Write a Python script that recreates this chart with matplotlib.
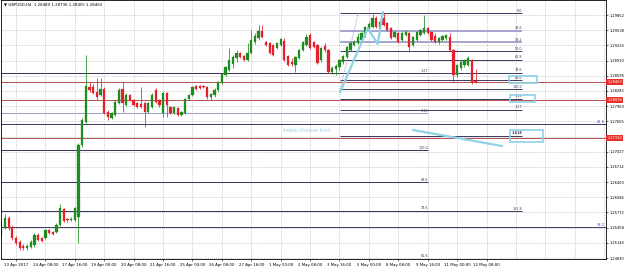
import matplotlib.pyplot as plt
from matplotlib.patches import Rectangle

# GBPUSD H4 candles, bar index 0 = 13 Apr 2017 00:00
first_bar = -4
opens = [1.2531, 1.2547, 1.2566, 1.2547, 1.2525, 1.2516, 1.2508, 1.2504, 1.2506, 1.2510,
         1.2531, 1.2525, 1.2525, 1.2541, 1.2537, 1.2537, 1.2551, 1.2584, 1.2564, 1.2562,
         1.2562, 1.2568, 1.2717, 1.2764, 1.2836, 1.2836, 1.2826, 1.2820, 1.2832, 1.2785,
         1.2772, 1.2779, 1.2803, 1.2832, 1.2799, 1.2820, 1.2810, 1.2803, 1.2801, 1.2803,
         1.2785, 1.2795, 1.2830, 1.2810, 1.2783, 1.2824, 1.2795, 1.2783, 1.2793, 1.2779,
         1.2783, 1.2812, 1.2820, 1.2839, 1.2839, 1.2839, 1.2836, 1.2816, 1.2820, 1.2830,
         1.2845, 1.2861, 1.2872, 1.2884, 1.2896, 1.2907, 1.2901, 1.2892, 1.2907, 1.2929,
         1.2938, 1.2952, 1.2929, 1.2927, 1.2923, 1.2917, 1.2923, 1.2932, 1.2901, 1.2888,
         1.2882, 1.2896, 1.2913, 1.2923, 1.2944, 1.2929, 1.2923, 1.2892, 1.2921, 1.2913,
         1.2868, 1.2874, 1.2878, 1.2888, 1.2898, 1.2913, 1.2923, 1.2927, 1.2934, 1.2944,
         1.2954, 1.2960, 1.2979, 1.2956, 1.2979, 1.2969, 1.2958, 1.2940, 1.2948, 1.2934,
         1.2944, 1.2948, 1.2923, 1.2934, 1.2944, 1.2948, 1.2958, 1.2950, 1.2942, 1.2929,
         1.2934, 1.2938, 1.2940, 1.2913, 1.2861, 1.2876, 1.2882, 1.2882, 1.2892, 1.28489]
closes = [1.2551, 1.2566, 1.2545, 1.2525, 1.2514, 1.2504, 1.2504, 1.2508, 1.2516, 1.2531,
          1.2520, 1.2518, 1.2541, 1.2535, 1.2533, 1.2551, 1.2586, 1.2560, 1.2562, 1.2564,
          1.2586, 1.2717, 1.2768, 1.2839, 1.2830, 1.2824, 1.2816, 1.2832, 1.2783, 1.2774,
          1.2783, 1.2805, 1.2830, 1.2803, 1.2820, 1.2810, 1.2799, 1.2795, 1.2795, 1.2785,
          1.2803, 1.2820, 1.2805, 1.2799, 1.2824, 1.2799, 1.2783, 1.2795, 1.2779, 1.2785,
          1.2812, 1.2820, 1.2836, 1.2832, 1.2834, 1.2836, 1.2816, 1.2822, 1.2830, 1.2847,
          1.2863, 1.2878, 1.2892, 1.2898, 1.2907, 1.2898, 1.2892, 1.2907, 1.2934, 1.2942,
          1.2952, 1.2940, 1.2923, 1.2907, 1.2903, 1.2927, 1.2936, 1.2892, 1.2882, 1.2884,
          1.2898, 1.2913, 1.2929, 1.2940, 1.2917, 1.2919, 1.2886, 1.2917, 1.2913, 1.2868,
          1.2876, 1.2880, 1.2892, 1.2901, 1.2919, 1.2927, 1.2929, 1.2940, 1.2948, 1.2960,
          1.2967, 1.2979, 1.2960, 1.2971, 1.2965, 1.2954, 1.2938, 1.2950, 1.2929, 1.2948,
          1.2950, 1.2919, 1.2940, 1.2950, 1.2954, 1.2958, 1.2948, 1.2934, 1.2929, 1.2938,
          1.2942, 1.2944, 1.2913, 1.2861, 1.2882, 1.2888, 1.2892, 1.2896, 1.2847, 1.28463]
highs = [1.2562, 1.2574, 1.2570, 1.2551, 1.2529, 1.2520, 1.2512, 1.2512, 1.2520, 1.2535,
         1.2535, 1.2527, 1.2543, 1.2543, 1.2539, 1.2556, 1.2595, 1.2586, 1.2566, 1.2568,
         1.2588, 1.2721, 1.2772, 1.2903, 1.2847, 1.2843, 1.2855, 1.2855, 1.2836, 1.2789,
         1.2785, 1.2810, 1.2834, 1.2847, 1.2824, 1.2822, 1.2812, 1.2805, 1.2836, 1.2805,
         1.2805, 1.2824, 1.2834, 1.2812, 1.2826, 1.2826, 1.2797, 1.2797, 1.2795, 1.2787,
         1.2814, 1.2822, 1.2839, 1.2841, 1.2841, 1.2841, 1.2839, 1.2824, 1.2834, 1.2849,
         1.2865, 1.2880, 1.2917, 1.2903, 1.2913, 1.2909, 1.2903, 1.2927, 1.2954, 1.2948,
         1.2965, 1.2965, 1.2932, 1.2929, 1.2925, 1.2929, 1.2938, 1.2938, 1.2903, 1.2896,
         1.2901, 1.2915, 1.2932, 1.2946, 1.2948, 1.2932, 1.2925, 1.2919, 1.2927, 1.2915,
         1.2880, 1.2884, 1.2894, 1.2903, 1.2921, 1.2929, 1.2934, 1.2948, 1.2950, 1.2963,
         1.2971, 1.2987, 1.2983, 1.2975, 1.2989, 1.2971, 1.2960, 1.2952, 1.2950, 1.2950,
         1.2954, 1.2950, 1.2942, 1.2952, 1.2956, 1.2985, 1.2960, 1.2952, 1.2948, 1.2940,
         1.2944, 1.2946, 1.2948, 1.2915, 1.2884, 1.2890, 1.2894, 1.2901, 1.2894, 1.28736]
lows = [1.2525, 1.2543, 1.2541, 1.2520, 1.2510, 1.2500, 1.2500, 1.2500, 1.2504, 1.2506,
        1.2518, 1.2516, 1.2522, 1.2533, 1.2531, 1.2535, 1.2549, 1.2558, 1.2558, 1.2560,
        1.2560, 1.2514, 1.2713, 1.2762, 1.2826, 1.2822, 1.2810, 1.2818, 1.2781, 1.2768,
        1.2770, 1.2777, 1.2801, 1.2785, 1.2797, 1.2808, 1.2797, 1.2793, 1.2793, 1.2754,
        1.2783, 1.2793, 1.2803, 1.2795, 1.2774, 1.2774, 1.2781, 1.2781, 1.2777, 1.2777,
        1.2781, 1.2810, 1.2818, 1.2830, 1.2832, 1.2834, 1.2812, 1.2810, 1.2816, 1.2826,
        1.2843, 1.2859, 1.2870, 1.2876, 1.2888, 1.2896, 1.2890, 1.2890, 1.2905, 1.2925,
        1.2934, 1.2938, 1.2921, 1.2905, 1.2901, 1.2915, 1.2921, 1.2890, 1.2880, 1.2880,
        1.2868, 1.2894, 1.2911, 1.2921, 1.2915, 1.2917, 1.2884, 1.2888, 1.2909, 1.2866,
        1.2863, 1.2861, 1.2872, 1.2884, 1.2896, 1.2911, 1.2921, 1.2925, 1.2929, 1.2940,
        1.2952, 1.2958, 1.2958, 1.2954, 1.2963, 1.2952, 1.2936, 1.2938, 1.2927, 1.2932,
        1.2942, 1.2909, 1.2921, 1.2932, 1.2942, 1.2946, 1.2946, 1.2932, 1.2927, 1.2925,
        1.2932, 1.2934, 1.2911, 1.2847, 1.2857, 1.2872, 1.2878, 1.2880, 1.2843, 1.28455]

time_labels = ['13 Apr 2017', '14 Apr 08:00', '17 Apr 16:00', '19 Apr 00:00', '20 Apr 08:00',
               '21 Apr 16:00', '25 Apr 00:00', '26 Apr 08:00', '27 Apr 16:00', '1 May 00:00',
               '2 May 08:00', '3 May 16:00', '5 May 00:00', '8 May 08:00', '9 May 16:00',
               '11 May 00:00', '12 May 08:00']
price_ticks = [1.29852, 1.29538, 1.29224, 1.28910, 1.28596, 1.28283, 1.27969, 1.27655, 1.27341,
               1.27027, 1.26714, 1.26400, 1.26086, 1.25772, 1.25458, 1.25144, 1.24830]
red_lines = [1.28463, 1.28096, 1.27310]

# fibo tools
fib1_levels = [61.8, 78.6, 88.6, 100.0, 113.0, 127.0]
fib1_text = ['61.8', '78.6', '88.6', '100.0', '1.13', '1.27']
fib1_p0, fib1_p100 = 1.21193, 1.27063
fib2_levels = [0.0, 23.6, 38.2, 50.0, 61.8, 78.6, 88.6, 100.0, 113.0, 127.0, 161.8]
fib2_text = ['0.0', '23.6', '38.2', '50.0', '61.8', '78.6', '88.6', '100.0', '1.13', '1.27', '1.618']
fib2_p0, fib2_p100 = 1.29893, 1.28323
wide_levels = [1.27600, 1.25472]
wide_text = ['61.8', '38.2']

bull, bear = '#1e8c1e', '#e3202c'
navy = '#3a3a60'
cyan = '#8fd2e6'

fig = plt.figure(figsize=(6.25, 2.69), dpi=100)
ax = fig.add_axes([1 / 625, 10 / 269, 605 / 625, 259 / 269])
ax.set_xlim(-4.08, 160.5)
ax.set_ylim(1.24811, 1.30162)

# grid
for gx in range(0, 161, 8):
    ax.axvline(gx, color='#bdbdbd', lw=0.5, ls=(0, (1.5, 1.5)), zorder=0)
for gy in price_ticks:
    ax.axhline(gy, color='#bdbdbd', lw=0.5, ls=(0, (1.5, 1.5)), zorder=0)

# horizontal lines
for p in red_lines:
    ax.axhline(p, color='#b85050', lw=0.7, zorder=1)
    ax.text(1.002, p, f'{p:.5f}', transform=ax.get_yaxis_transform(), fontsize=2.6,
            color='white', va='center', ha='left', clip_on=False, zorder=5,
            bbox=dict(fc='#e8302a', ec='none', pad=0.7))

for p, t in zip(wide_levels, wide_text):
    ax.axhline(p, color=navy, lw=0.7, zorder=1)
    ax.text(160, p, t, fontsize=2.6, color='#4848b0', ha='right', va='bottom', zorder=4)

for lv, t in zip(fib1_levels, fib1_text):
    p = fib1_p0 + (fib1_p100 - fib1_p0) * lv / 100
    c = '#a0a0cc' if t == '1.13' else navy
    ax.hlines(p, -5, 112.1, color=c, lw=0.75, zorder=1)
    ax.text(112.1, p + 0.0001, t, fontsize=2.4, color=navy, ha='right', va='bottom', zorder=4)

for lv, t in zip(fib2_levels, fib2_text):
    p = fib2_p0 + (fib2_p100 - fib2_p0) * lv / 100
    c = '#a4a4cf' if t in ('23.6', '38.2') else navy
    w = 1.4 if t in ('23.6', '38.2') else 0.7
    ax.hlines(p, 88.2, 137.7, color=c, lw=w, zorder=1)
    ax.text(137.7, p + 0.0001, t, fontsize=2.4, color=navy, ha='right', va='bottom', zorder=4,
            fontweight='bold' if t == '1.618' else 'normal')
ax.plot([88.2, 93.1], [fib2_p100, fib2_p0], color='#707090', lw=0.6, ls=':', zorder=1)

ax.hlines(1.2580, 88.2, 137.7, color=navy, lw=0.7, zorder=1)
ax.text(137.7, 1.2581, '161.8', fontsize=2.4, color=navy, ha='right', va='bottom', zorder=4)

# candles
for i, (o, h, l, c) in enumerate(zip(opens, highs, lows, closes)):
    x = first_bar + i
    col = bull if c > o else bear
    ax.vlines(x, l, h, color=col, lw=0.55, zorder=2)
    ax.bar(x, max(abs(c - o), 0.00004), bottom=min(o, c), width=0.62, color=col,
           edgecolor=col, lw=0.2, zorder=2)

# drawings
ax.plot([88.2, 95.7, 98.4, 99.8], [1.28261, 1.29583, 1.29253, 1.29914], color=cyan, lw=1.6,
        zorder=3, solid_capstyle='round')
ax.plot([108, 132.2], [1.27476, 1.27146], color=cyan, lw=1.6, zorder=3, solid_capstyle='round')
ax.text(72.4, 1.27476, 'Jenkins Horizon level', fontsize=4, color='#9ad3e6',
        family='Liberation Serif', va='center', ha='left', zorder=4)
for (bx, by, bw, bh) in [(134.2, 1.28447, 7.4, 0.00145), (134.4, 1.28055, 6.8, 0.00144),
                         (134.4, 1.27228, 9.0, 0.00248)]:
    ax.add_patch(Rectangle((bx, by), bw, bh, fill=False, ec=cyan, lw=1.2, zorder=4))

# axes; the label hidden under a red price box is left blank
ax.yaxis.tick_right()
hidden = [any(abs(v - r) < 0.0006 for r in red_lines) for v in price_ticks]
ax.set_yticks(price_ticks, labels=['' if h else f'{v:.5f}' for v, h in zip(price_ticks, hidden)])
ax.set_xticks(range(0, 129, 8), labels=time_labels)
ax.tick_params(axis='y', labelsize=2.6, length=1.5, width=0.4, pad=1)
ax.tick_params(axis='x', labelsize=2.8, length=1.5, width=0.4, pad=1.5)
for s in ax.spines.values():
    s.set_linewidth(0.6)
    s.set_color('black')

fig.text(4 / 625, 1 - 4 / 269, '\u25bc GBPUSD,H4  1.28489 1.28736 1.28455 1.28463',
         fontsize=2.8, va='center', ha='left')

plt.savefig('out.png', dpi=100)
plt.close()
